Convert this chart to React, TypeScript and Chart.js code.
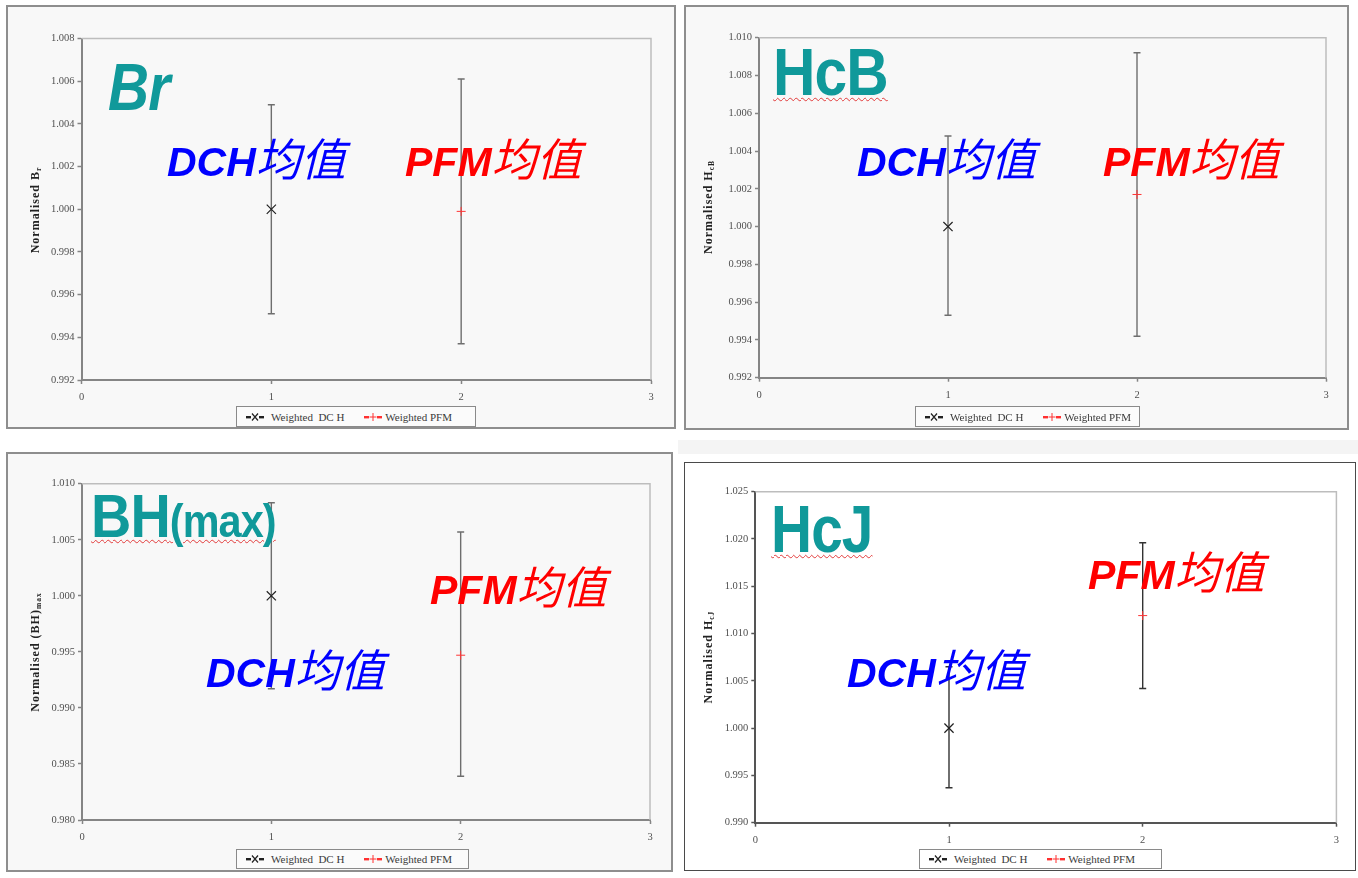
import React, { useEffect, useRef } from "react";
import { Chart, registerables } from "chart.js";
Chart.register(...registerables);

// ---------- data ----------
const X_TICKS = [0, 1, 2, 3];
const SERIES = ["Weighted  DC H", "Weighted PFM"];
const GROUP_X = [1, 2];

const BR_TICKS = [0.992, 0.994, 0.996, 0.998, 1.0, 1.002, 1.004, 1.006, 1.008];
const BR_MEAN = [1.0, 0.9999];
const BR_LOW = [0.9951, 0.9937];
const BR_HIGH = [1.0049, 1.0061];

const HCB_TICKS = [0.992, 0.994, 0.996, 0.998, 1.0, 1.002, 1.004, 1.006, 1.008, 1.01];
const HCB_MEAN = [1.0, 1.0017];
const HCB_LOW = [0.9953, 0.9942];
const HCB_HIGH = [1.0048, 1.0092];

const BH_TICKS = [0.98, 0.985, 0.99, 0.995, 1.0, 1.005, 1.01];
const BH_MEAN = [1.0, 0.9947];
const BH_LOW = [0.9917, 0.9839];
const BH_HIGH = [1.0083, 1.0057];

const HCJ_TICKS = [0.99, 0.995, 1.0, 1.005, 1.01, 1.015, 1.02, 1.025];
const HCJ_MEAN = [1.0, 1.0119];
const HCJ_LOW = [0.9937, 1.0042];
const HCJ_HIGH = [1.0065, 1.0196];

// ---------- layout ----------
const SERIF = '"Liberation Serif", "Times New Roman", serif';
const SANS = '"Liberation Sans", Arial, sans-serif';
const CJK = '"Noto Sans CJK SC", sans-serif';
const TEAL = "#10999a";

type PanelCfg = {
  box: { x: number; y: number; w: number; h: number };
  plot: { l: number; r: number; t: number; b: number };
  bg: string;
  border: string;
  borderW: number;
  axisColor: string;
  barColor: string;
  ticks: number[];
  mean: number[];
  low: number[];
  high: number[];
  big: { text: React.ReactNode; left: number; top: number; size: number; italic: boolean; wavy: boolean; sx: number };
  dch: { left: number; top: number };
  pfm: { left: number; top: number };
  ytitle: { cx: number; cy: number; node: React.ReactNode };
  legend: { x: number; y: number; w: number; h: number };
};

const sub = (t: string) => (
  <span style={{ fontSize: 7.5, verticalAlign: -2 }}>{t}</span>
);

const PANELS: PanelCfg[] = [
  {
    box: { x: 6, y: 5, w: 670, h: 424 },
    plot: { l: 81.5, r: 651, t: 38.5, b: 380 },
    bg: "#f8f8f8", border: "#8e8e8e", borderW: 2, axisColor: "#858585", barColor: "#6e6e6e",
    ticks: BR_TICKS, mean: BR_MEAN, low: BR_LOW, high: BR_HIGH,
    big: { text: "Br", left: 108, top: 54, size: 66, italic: true, wavy: false, sx: 0.86 },
    dch: { left: 167, top: 136 },
    pfm: { left: 405, top: 136 },
    ytitle: { cx: 37, cy: 210, node: <>Normalised B{sub("r")}</> },
    legend: { x: 236, y: 406, w: 240, h: 21 },
  },
  {
    box: { x: 684, y: 5, w: 665, h: 425 },
    plot: { l: 759, r: 1326, t: 37.7, b: 377.7 },
    bg: "#f8f8f8", border: "#8e8e8e", borderW: 2, axisColor: "#858585", barColor: "#6e6e6e",
    ticks: HCB_TICKS, mean: HCB_MEAN, low: HCB_LOW, high: HCB_HIGH,
    big: { text: "HcB", left: 773, top: 39, size: 66, italic: false, wavy: true, sx: 0.89 },
    dch: { left: 857, top: 136 },
    pfm: { left: 1103, top: 136 },
    ytitle: { cx: 710, cy: 207, node: <>Normalised H{sub("cB")}</> },
    legend: { x: 915, y: 406, w: 225, h: 21 },
  },
  {
    box: { x: 6, y: 452, w: 667, h: 420 },
    plot: { l: 82, r: 650, t: 483.7, b: 820 },
    bg: "#f8f8f8", border: "#8e8e8e", borderW: 2, axisColor: "#858585", barColor: "#6e6e6e",
    ticks: BH_TICKS, mean: BH_MEAN, low: BH_LOW, high: BH_HIGH,
    big: {
      text: <>BH<span style={{ fontSize: 46 }}>(max)</span></>,
      left: 91, top: 485, size: 62, italic: false, wavy: true, sx: 0.9,
    },
    dch: { left: 206, top: 647 },
    pfm: { left: 430, top: 564 },
    ytitle: { cx: 37, cy: 652, node: <>Normalised (BH){sub("max")}</> },
    legend: { x: 236, y: 849, w: 233, h: 20 },
  },
  {
    box: { x: 684, y: 462, w: 672, h: 409 },
    plot: { l: 755.3, r: 1336.4, t: 491.7, b: 822.7 },
    bg: "#ffffff", border: "#4a4a4a", borderW: 1.5, axisColor: "#555555", barColor: "#333333",
    ticks: HCJ_TICKS, mean: HCJ_MEAN, low: HCJ_LOW, high: HCJ_HIGH,
    big: { text: "HcJ", left: 771, top: 496, size: 66, italic: false, wavy: true, sx: 0.86 },
    dch: { left: 847, top: 647 },
    pfm: { left: 1088, top: 549 },
    ytitle: { cx: 710, cy: 657, node: <>Normalised H{sub("cJ")}</> },
    legend: { x: 919, y: 849, w: 243, h: 20 },
  },
];

const YW = 46;
const XH = 24;

const framePlugin = {
  id: "frame",
  beforeDatasetsDraw(chart: any, _args: any, opts: any) {
    const { ctx, chartArea: a } = chart;
    ctx.save();
    ctx.strokeStyle = opts.color;
    ctx.lineWidth = opts.width;
    ctx.beginPath();
    ctx.moveTo(a.left, a.top);
    ctx.lineTo(a.right, a.top);
    ctx.lineTo(a.right, a.bottom);
    ctx.stroke();
    ctx.restore();
  },
};

function PanelChart({ p }: { p: PanelCfg }) {
  const ref = useRef<HTMLCanvasElement>(null);
  useEffect(() => {
    const canvas = ref.current!;
    const pad = {
      left: p.plot.l - p.box.x - YW,
      top: p.plot.t - p.box.y,
      right: p.box.x + p.box.w - p.plot.r,
      bottom: p.box.y + p.box.h - p.plot.b - XH,
    };
    const datasets: any[] = [];
    GROUP_X.forEach((gx, i) => {
      datasets.push({
        type: "scatter",
        label: SERIES[i],
        data: [{ x: gx, y: p.mean[i] }],
        pointStyle: i === 0 ? "crossRot" : "cross",
        pointRadius: i === 0 ? 6.5 : 4.5,
        pointBorderColor: i === 0 ? "#222222" : "#ff3535",
        borderColor: i === 0 ? "#222222" : "#ff3535",
        pointBorderWidth: i === 0 ? 1.2 : 1,
        showLine: false,
        order: 0,
      });
      datasets.push({
        type: "line",
        label: SERIES[i] + " error",
        data: [
          { x: gx, y: p.low[i] },
          { x: gx, y: p.high[i] },
        ],
        borderColor: p.barColor,
        borderWidth: 1.4,
        pointStyle: "line",
        pointRadius: 3.5,
        pointBorderColor: p.barColor,
        pointBorderWidth: 1.5,
        showLine: true,
        fill: false,
        order: 1,
      });
    });
    const tickFont = { family: SERIF, size: 10.5 };
    const chart = new Chart(canvas, {
      type: "scatter",
      data: { datasets },
      plugins: [framePlugin],
      options: {
        animation: false,
        responsive: false,
        events: [],
        layout: { padding: pad },
        plugins: {
          legend: { display: false },
          tooltip: { enabled: false },
          frame: { color: "#bdbdbd", width: 1.5 },
        } as any,
        scales: {
          x: {
            type: "linear",
            min: X_TICKS[0],
            max: X_TICKS[X_TICKS.length - 1],
            afterBuildTicks: (s: any) => {
              s.ticks = X_TICKS.map((v) => ({ value: v }));
            },
            afterFit: (s: any) => {
              s.height = XH;
            },
            ticks: {
              font: tickFont,
              color: "#505050",
              padding: 7,
              maxRotation: 0,
              callback: (v: any) => String(v),
            },
            grid: {
              drawOnChartArea: false,
              drawTicks: true,
              tickLength: 4,
              tickColor: p.axisColor,
              tickWidth: 1.5,
            },
            border: { display: true, color: p.axisColor, width: 2 },
          },
          y: {
            type: "linear",
            min: p.ticks[0],
            max: p.ticks[p.ticks.length - 1],
            afterBuildTicks: (s: any) => {
              s.ticks = p.ticks.map((v) => ({ value: v }));
            },
            afterFit: (s: any) => {
              s.width = YW;
            },
            ticks: {
              font: tickFont,
              color: "#505050",
              padding: 3,
              callback: (v: any) => Number(v).toFixed(3),
            },
            grid: {
              drawOnChartArea: false,
              drawTicks: true,
              tickLength: 4,
              tickColor: p.axisColor,
              tickWidth: 1.5,
            },
            border: { display: true, color: p.axisColor, width: 2 },
          },
        },
      } as any,
    });
    return () => chart.destroy();
  }, [p]);
  return (
    <canvas
      ref={ref}
      width={p.box.w}
      height={p.box.h}
      style={{
        position: "absolute",
        left: p.box.x,
        top: p.box.y,
        width: p.box.w,
        height: p.box.h,
      }}
    />
  );
}

function Marker({ kind }: { kind: 0 | 1 }) {
  const c = kind === 0 ? "#222" : "#ff3030";
  return (
    <svg width={18} height={10} style={{ display: "block" }}>
      <rect x={0} y={4} width={5} height={2.4} fill={c} />
      <rect x={13} y={4} width={5} height={2.4} fill={c} />
      {kind === 0 ? (
        <path d="M6 1.5 L12 8.5 M12 1.5 L6 8.5" stroke={c} strokeWidth={1.2} />
      ) : (
        <path d="M9 1 L9 9 M5.5 5 L12.5 5" stroke={c} strokeWidth={1} />
      )}
    </svg>
  );
}

function Legend({ p }: { p: PanelCfg }) {
  const L = p.legend;
  return (
    <div
      style={{
        position: "absolute",
        left: L.x,
        top: L.y,
        width: L.w,
        height: L.h,
        boxSizing: "border-box",
        border: "1px solid #8a8a8a",
        background: p.bg === "#ffffff" ? "#ffffff" : "#fbfbfb",
        display: "flex",
        alignItems: "center",
        paddingLeft: 9,
        fontFamily: SERIF,
        fontSize: 11,
        color: "#3a3a3a",
        whiteSpace: "pre",
      }}
    >
      <Marker kind={0} />
      <span style={{ marginLeft: 7 }}>{SERIES[0]}</span>
      <span style={{ width: 20 }} />
      <Marker kind={1} />
      <span style={{ marginLeft: 3 }}>{SERIES[1]}</span>
    </div>
  );
}

function MeanLabel({ left, top, color }: { left: number; top: number; color: string }) {
  return (
    <div
      style={{
        position: "absolute",
        left,
        top,
        fontFamily: SANS,
        fontSize: 41,
        lineHeight: "42px",
        fontWeight: 700,
        fontStyle: "italic",
        color,
        whiteSpace: "nowrap",
      }}
    >
      {color === "#0000ff" ? "DCH" : "PFM"}
      <span style={{ fontFamily: CJK, fontWeight: 400, fontSize: 45 }}>均值</span>
    </div>
  );
}

function Overlays({ p }: { p: PanelCfg }) {
  const b = p.big;
  return (
    <>
      <div
        style={{
          position: "absolute",
          left: b.left,
          top: b.top,
          fontFamily: SANS,
          fontSize: b.size,
          lineHeight: b.size + "px",
          fontWeight: 700,
          fontStyle: b.italic ? "italic" : "normal",
          color: TEAL,
          whiteSpace: "nowrap",
          transform: `scaleX(${b.sx})`,
          transformOrigin: "left top",
          textDecoration: b.wavy ? "underline wavy #e23b3b" : "none",
          textDecorationThickness: "1px",
          textUnderlineOffset: "2px",
          letterSpacing: -1,
        }}
      >
        {b.text}
      </div>
      <MeanLabel left={p.dch.left} top={p.dch.top} color="#0000ff" />
      <MeanLabel left={p.pfm.left} top={p.pfm.top} color="#ff0000" />
      <div
        style={{
          position: "absolute",
          left: p.ytitle.cx,
          top: p.ytitle.cy,
          transform: "translate(-50%, -50%) rotate(-90deg)",
          fontFamily: SERIF,
          fontWeight: 700,
          fontSize: 12,
          letterSpacing: 1,
          color: "#222",
          whiteSpace: "nowrap",
          lineHeight: "14px",
        }}
      >
        {p.ytitle.node}
      </div>
      <Legend p={p} />
    </>
  );
}

export default function App() {
  return (
    <div
      style={{
        position: "absolute",
        left: 0,
        top: 0,
        width: 1358,
        height: 878,
        background: "#ffffff",
        overflow: "hidden",
      }}
    >
      <div style={{ position: "absolute", left: 678, top: 440, width: 680, height: 14, background: "#f4f4f4" }} />
      {PANELS.map((p, i) => (
        <div
          key={"bg" + i}
          style={{
            position: "absolute",
            left: p.box.x,
            top: p.box.y,
            width: p.box.w,
            height: p.box.h,
            boxSizing: "border-box",
            border: `${p.borderW}px solid ${p.border}`,
            background: p.bg,
          }}
        />
      ))}
      {PANELS.map((p, i) => (
        <PanelChart key={"c" + i} p={p} />
      ))}
      {PANELS.map((p, i) => (
        <Overlays key={"o" + i} p={p} />
      ))}
    </div>
  );
}
